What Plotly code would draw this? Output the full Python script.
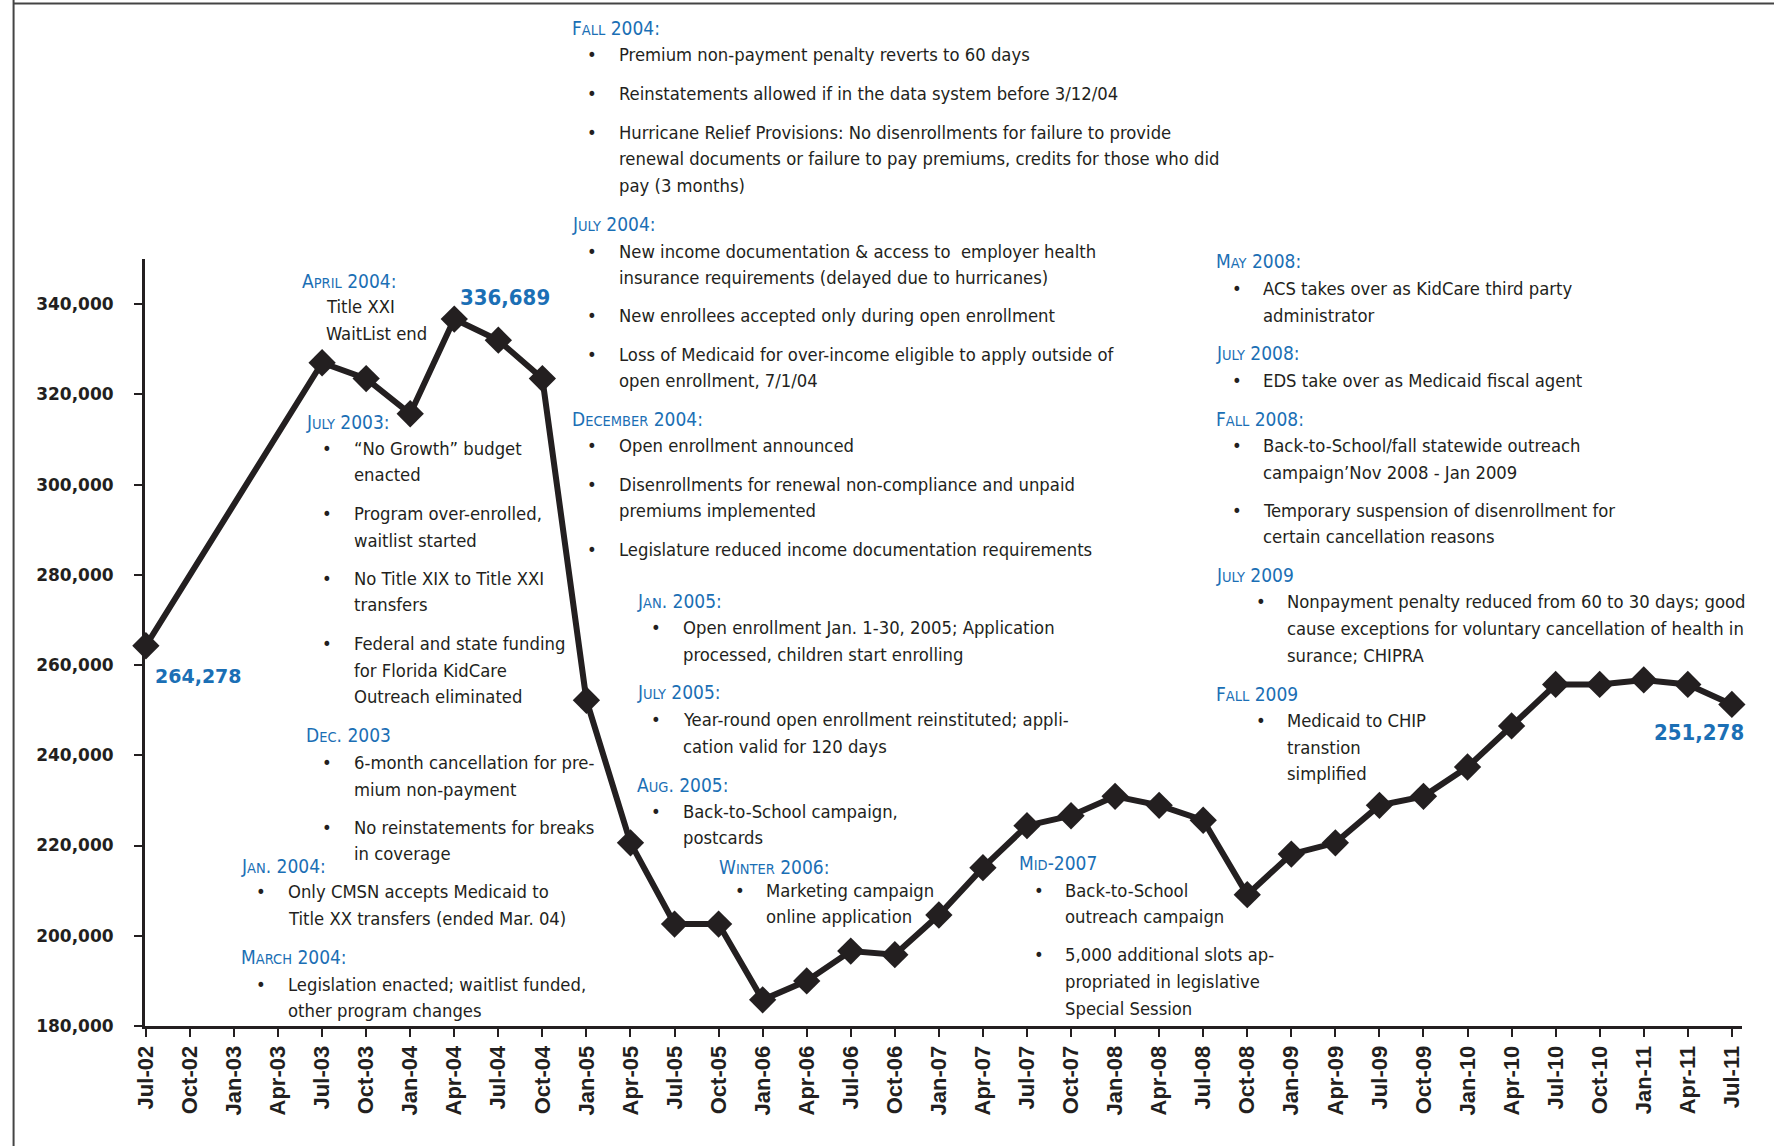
import re
import plotly.graph_objects as go

# ---------------- data ----------------
quarters = ["Jul-02", "Oct-02", "Jan-03", "Apr-03", "Jul-03", "Oct-03", "Jan-04", "Apr-04",
            "Jul-04", "Oct-04", "Jan-05", "Apr-05", "Jul-05", "Oct-05", "Jan-06", "Apr-06",
            "Jul-06", "Oct-06", "Jan-07", "Apr-07", "Jul-07", "Oct-07", "Jan-08", "Apr-08",
            "Jul-08", "Oct-08", "Jan-09", "Apr-09", "Jul-09", "Oct-09", "Jan-10", "Apr-10",
            "Jul-10", "Oct-10", "Jan-11", "Apr-11", "Jul-11"]
enrollment = [264278, None, None, None, 327000, 323500, 315700, 336689,
              332000, 323500, 252200, 220600, 202600, 202600, 185800, 190000,
              196600, 195800, 204600, 215100, 224400, 226600, 230900, 228900,
              225600, 209100, 218100, 220600, 228900, 230900, 237400, 246500,
              255700, 255700, 256700, 255700, 251278]
y_tick_values = [180000, 200000, 220000, 240000, 260000, 280000, 300000, 320000, 340000]
y_tick_labels = ["180,000", "200,000", "220,000", "240,000", "260,000",
                 "280,000", "300,000", "320,000", "340,000"]

# annotation texts
note_headers = ["Fall 2004:", "July 2004:", "December 2004:", "Jan. 2005:", "July 2005:",
                "Aug. 2005:", "Winter 2006:", "Mid-2007", "April 2004:", "July 2003:",
                "Dec. 2003", "Jan. 2004:", "March 2004:", "May 2008:", "July 2008:",
                "Fall 2008:", "July 2009", "Fall 2009"]
note_items = [
    [["Premium non-payment penalty reverts to 60 days"],
     ["Reinstatements allowed if in the data system before 3/12/04"],
     ["Hurricane Relief Provisions: No disenrollments for failure to provide",
      "renewal documents or failure to pay premiums, credits for those who did",
      "pay (3 months)"]],
    [["New income documentation & access to  employer health",
      "insurance requirements (delayed due to hurricanes)"],
     ["New enrollees accepted only during open enrollment"],
     ["Loss of Medicaid for over-income eligible to apply outside of",
      "open enrollment, 7/1/04"]],
    [["Open enrollment announced"],
     ["Disenrollments for renewal non-compliance and unpaid", "premiums implemented"],
     ["Legislature reduced income documentation requirements"]],
    [["Open enrollment Jan. 1-30, 2005; Application", "processed, children start enrolling"]],
    [["Year-round open enrollment reinstituted; appli-", "cation valid for 120 days"]],
    [["Back-to-School campaign,", "postcards"]],
    [["Marketing campaign", "online application"]],
    [["Back-to-School", "outreach campaign"],
     ["5,000 additional slots ap-", "propriated in legislative", "Special Session"]],
    [["Title XXI", "WaitList end"]],
    [["\u201cNo Growth\u201d budget", "enacted"],
     ["Program over-enrolled,", "waitlist started"],
     ["No Title XIX to Title XXI", "transfers"],
     ["Federal and state funding", "for Florida KidCare", "Outreach eliminated"]],
    [["6-month cancellation for pre-", "mium non-payment"],
     ["No reinstatements for breaks", "in coverage"]],
    [["Only CMSN accepts Medicaid to", "Title XX transfers (ended Mar. 04)"]],
    [["Legislation enacted; waitlist funded,", "other program changes"]],
    [["ACS takes over as KidCare third party", "administrator"]],
    [["EDS take over as Medicaid fiscal agent"]],
    [["Back-to-School/fall statewide outreach", "campaign\u2019Nov 2008 - Jan 2009"],
     ["Temporary suspension of disenrollment for", "certain cancellation reasons"]],
    [["Nonpayment penalty reduced from 60 to 30 days; good",
      "cause exceptions for voluntary cancellation of health in", "surance; CHIPRA"]],
    [["Medicaid to CHIP", "transtion", "simplified"]],
]

# ---------------- layout geometry (reference pixel grid) ----------------
W, H = 1774, 1146
ML, MR, MT, MB = 145, 32, 259, 120
S = W / 1568.0


def px(x):
    return (x * S - ML) / (W - ML - MR)


def py(y):
    return 1 - (y * S - MT) / (H - MT - MB)


# header x, header y, bullet x (None = no bullet), text x, first-line y of each item
note_pos = [
    (504, 25, 523, 545, [48, 83, 117]),
    (504, 198, 523, 545, [222, 279, 313]),
    (504, 370, 523, 545, [394, 428, 486]),
    (561, 531, 580, 602, [555]),
    (561, 612, 580, 602, [636]),
    (561, 694, 580, 602, [717]),
    (634, 766, 654, 675, [787]),
    (899, 763, 918, 940, [787, 844]),
    (265, 248, None, 286, [271]),
    (269, 373, 289, 311, [396, 454, 511, 569]),
    (269, 650, 289, 311, [674, 731]),
    (211, 765, 231, 253, [788]),
    (211, 846, 231, 253, [870]),
    (1073, 231, 1093, 1115, [255]),
    (1073, 312, 1093, 1115, [336]),
    (1073, 370, 1093, 1115, [394, 451]),
    (1073, 508, 1115, 1136, [532]),
    (1073, 613, 1115, 1136, [637]),
]
PITCH = 23.5  # line pitch in reference grid

BODY_FONT = "DejaVu Sans Condensed, Liberation Sans Narrow, Liberation Sans, sans-serif"
INK = "#231f20"
BLUE = "#1b6fb5"
BODY_SIZE = 18.3
CAP_SIZE = 19
SMALL_SIZE = 14.5


def small_caps(text):
    m = re.match(r"([A-Za-z])([a-z]+)(.*)", text)
    if not m:
        return text
    return (m.group(1) + "<span style='font-size:%spx'>%s</span>" % (SMALL_SIZE, m.group(2).upper())
            + m.group(3))


annotations = []
for header, items, (hx, hy, bx, tx, iys) in zip(note_headers, note_items, note_pos):
    annotations.append(dict(
        text=small_caps(header), x=px(hx), y=py(hy), xref="paper", yref="paper",
        xanchor="left", yanchor="middle", showarrow=False, align="left",
        font=dict(family=BODY_FONT, size=CAP_SIZE, color=BLUE)))
    for lines, y0 in zip(items, iys):
        if bx is not None:
            annotations.append(dict(
                text="\u2022", x=px(bx), y=py(y0), xref="paper", yref="paper",
                xanchor="center", yanchor="middle", showarrow=False,
                font=dict(family=BODY_FONT, size=BODY_SIZE, color=INK)))
        for i, line in enumerate(lines):
            annotations.append(dict(
                text=line, x=px(tx), y=py(y0 + i * PITCH), xref="paper", yref="paper",
                xanchor="left", yanchor="middle", showarrow=False, align="left",
                font=dict(family=BODY_FONT, size=BODY_SIZE, color=INK)))

# value call-outs tied to data points
annotations.append(dict(
    text=format(enrollment[0], ","), x=0, y=enrollment[0], xref="x", yref="y",
    xanchor="left", yanchor="middle", xshift=7, yshift=-30, showarrow=False,
    font=dict(family="DejaVu Sans, sans-serif", size=19, color=BLUE, weight="bold")))
annotations.append(dict(
    text=format(enrollment[7], ","), x=7, y=enrollment[7], xref="x", yref="y",
    xanchor="left", yanchor="middle", xshift=4, yshift=22, showarrow=False,
    font=dict(family=BODY_FONT, size=22, color=BLUE, weight="bold")))
annotations.append(dict(
    text=format(enrollment[-1], ","), x=36, y=enrollment[-1], xref="x", yref="y",
    xanchor="right", yanchor="middle", xshift=14, yshift=-28, showarrow=False,
    font=dict(family=BODY_FONT, size=22, color=BLUE, weight="bold")))

fig = go.Figure()
fig.add_trace(go.Scatter(
    x=list(range(len(quarters))), y=enrollment, mode="lines+markers", connectgaps=True,
    line=dict(color=INK, width=6),
    marker=dict(symbol="diamond", size=21, color=INK),
    hoverinfo="x+y", showlegend=False, cliponaxis=False))

fig.update_layout(
    width=W, height=H,
    margin=dict(l=ML, r=MR, t=MT, b=MB, autoexpand=False),
    paper_bgcolor="white", plot_bgcolor="white",
    showlegend=False,
    annotations=annotations,
    xaxis=dict(
        range=[-0.02, 36.23], tickmode="array", tickvals=list(range(len(quarters))),
        ticktext=quarters, tickangle=-90, ticks="outside", ticklen=8, tickwidth=2,
        tickcolor=INK, showline=True, linecolor=INK, linewidth=3, showgrid=False,
        zeroline=False, fixedrange=True,
        tickfont=dict(family="Liberation Sans, Arial, sans-serif", size=22, color=INK,
                      weight="bold")),
    yaxis=dict(
        range=[180000, 350000], tickmode="array", tickvals=y_tick_values,
        ticktext=y_tick_labels, ticks="outside", ticklen=8, tickwidth=2, tickcolor=INK,
        showline=True, linecolor=INK, linewidth=3, showgrid=False, zeroline=False,
        ticklabelstandoff=17, fixedrange=True,
        tickfont=dict(family="DejaVu Sans, sans-serif", size=17, color=INK, weight="bold")),
    shapes=[
        dict(type="line", xref="paper", yref="paper", x0=px(12), x1=px(12), y0=py(0), y1=py(1013),
             line=dict(color="#444444", width=2)),
        dict(type="line", xref="paper", yref="paper", x0=px(12), x1=px(1568), y0=py(3), y1=py(3),
             line=dict(color="#444444", width=2)),
    ],
)

fig.write_html("out.html", config={"displayModeBar": False},
               post_script="document.body.style.margin='0px';")
